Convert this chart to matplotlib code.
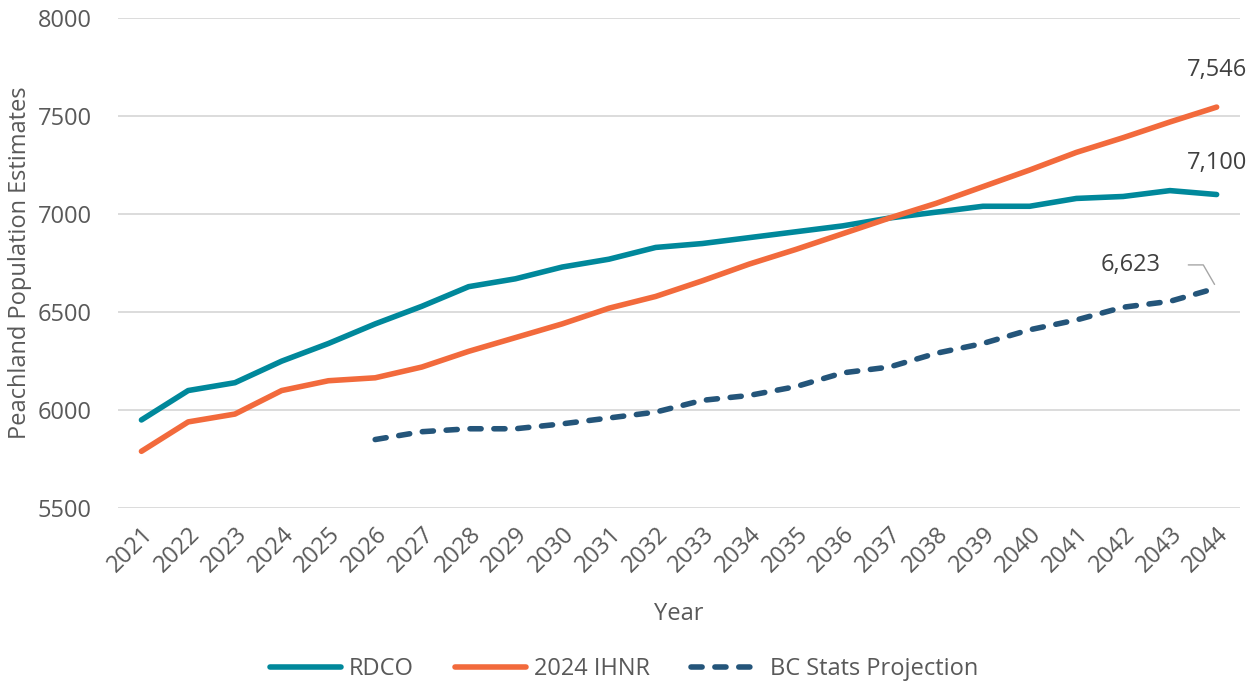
import numpy as np
import matplotlib
matplotlib.use("Agg")
import matplotlib.pyplot as plt

plt.rcParams['font.family'] = ['Open Sans', 'DejaVu Sans']

years = list(range(2021, 2045))
rdco = [5950, 6100, 6140, 6250, 6340, 6440, 6530, 6630, 6670, 6730, 6770, 6830,
        6850, 6880, 6910, 6940, 6980, 7010, 7040, 7040, 7080, 7090, 7120, 7100]
ihnr = [5790, 5940, 5980, 6100, 6150, 6165, 6220, 6300, 6370, 6440, 6520, 6580,
        6660, 6745, 6820, 6900, 6980, 7055, 7140, 7225, 7315, 7390, 7470, 7546]
bc_years = list(range(2026, 2045))
bc_stats = [5850, 5890, 5905, 5905, 5930, 5960, 5990, 6050, 6075, 6120, 6190,
            6220, 6290, 6340, 6410, 6460, 6525, 6555, 6623]

teal = "#00889b"
orange = "#f26a3c"
navy = "#24557a"
grey = "#595959"
fs = 17

fig = plt.figure(figsize=(12.48, 6.83), dpi=100)
ax = fig.add_axes([0.0946, 0.256, 0.899, 0.7175])

ax.plot(years, rdco, color=teal, lw=4, solid_capstyle='round', label="RDCO", zorder=3)
ax.plot(years, ihnr, color=orange, lw=4, solid_capstyle='round', label="2024 IHNR", zorder=3)
ax.plot(bc_years, bc_stats, color=navy, lw=4, ls=(0, (2.0, 2.3)), dash_capstyle='round',
        label="BC Stats Projection", zorder=3)

ax.set_xlim(2020.5, 2044.5)
ax.set_ylim(5500, 8000)
ax.set_yticks(range(5500, 8001, 500))
ax.set_xticks(years)
ax.set_xticklabels([str(y) for y in years], rotation=45, ha='right', va='top',
                   rotation_mode='anchor')
ax.tick_params(axis='both', length=0, labelsize=fs, labelcolor=grey)
ax.tick_params(axis='x', pad=10)
ax.tick_params(axis='y', pad=19)
ax.grid(axis='y', color='#d9d9d9', lw=1.3)
ax.set_axisbelow(True)
for s in ax.spines.values():
    s.set_visible(False)

ax.set_xlabel("Year", fontsize=fs, color=grey, labelpad=18)
ax.set_ylabel("Peachland Population Estimates", fontsize=fs, color=grey, labelpad=4)

ax.annotate(f"{ihnr[-1]:,}", (years[-1], ihnr[-1]), xytext=(0, 18), textcoords='offset points',
            ha='center', va='bottom', fontsize=fs, color='#404040')
ax.annotate(f"{rdco[-1]:,}", (years[-1], rdco[-1]), xytext=(0, 14), textcoords='offset points',
            ha='center', va='bottom', fontsize=fs, color='#404040')
ax.annotate(f"{bc_stats[-1]:,}", (bc_years[-1], bc_stats[-1]), xytext=(-62, 8),
            textcoords='offset points', ha='center', va='bottom', fontsize=fs, color='#404040',
            arrowprops=dict(arrowstyle='-', color='#a6a6a6', lw=1,
                            connectionstyle='angle,angleA=0,angleB=120,rad=0',
                            shrinkA=18, shrinkB=3))

fig.legend(loc='lower center', bbox_to_anchor=(0.5, -0.028), ncol=3, frameon=False,
           fontsize=fs, labelcolor=grey, handlelength=3.0, columnspacing=1.75,
           handletextpad=0.34)

fig.savefig("out.png", dpi=100)
